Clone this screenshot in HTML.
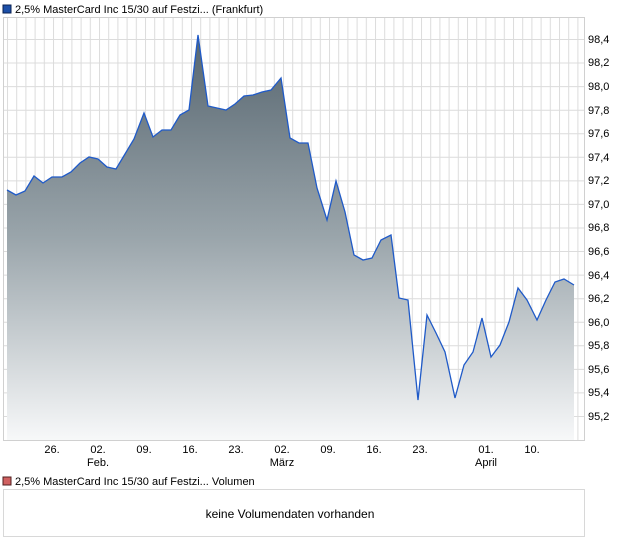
<!DOCTYPE html>
<html><head><meta charset="utf-8"><style>
body{margin:0;background:#fff;width:620px;height:546px;overflow:hidden;font-family:"Liberation Sans",sans-serif;}
</style></head><body>
<svg width="620" height="546" xmlns="http://www.w3.org/2000/svg" font-family="Liberation Sans, sans-serif">
<defs>
<linearGradient id="g" gradientUnits="userSpaceOnUse" x1="0" y1="35" x2="0" y2="440">
<stop offset="0" stop-color="#56656f"/><stop offset="0.5" stop-color="#9aa5ab"/><stop offset="1" stop-color="#f7f8f9"/>
</linearGradient>
<pattern id="vg" patternUnits="userSpaceOnUse" x="7" y="0" width="9.2" height="10"><rect x="0" y="0" width="1" height="10" fill="#dcdcdc"/></pattern>
</defs>
<rect x="3" y="5" width="8" height="8" fill="#1c4fa8" stroke="#0a2050" stroke-width="1"/>
<text x="15" y="13" font-size="11" fill="#000">2,5% MasterCard Inc 15/30 auf Festzi... (Frankfurt)</text>
<rect x="3" y="17" width="581" height="423" fill="url(#vg)"/>
<g stroke="#dcdcdc" stroke-width="1">
<line x1="3" x2="584" y1="39.5" y2="39.5"/><line x1="3" x2="584" y1="63" y2="63"/><line x1="3" x2="584" y1="86.6" y2="86.6"/><line x1="3" x2="584" y1="110.2" y2="110.2"/><line x1="3" x2="584" y1="133.7" y2="133.7"/><line x1="3" x2="584" y1="157.3" y2="157.3"/><line x1="3" x2="584" y1="180.9" y2="180.9"/><line x1="3" x2="584" y1="204.4" y2="204.4"/><line x1="3" x2="584" y1="228" y2="228"/><line x1="3" x2="584" y1="251.5" y2="251.5"/><line x1="3" x2="584" y1="275.1" y2="275.1"/><line x1="3" x2="584" y1="298.7" y2="298.7"/><line x1="3" x2="584" y1="322.2" y2="322.2"/><line x1="3" x2="584" y1="345.8" y2="345.8"/><line x1="3" x2="584" y1="369.4" y2="369.4"/><line x1="3" x2="584" y1="392.9" y2="392.9"/><line x1="3" x2="584" y1="416.5" y2="416.5"/>
</g>
<polygon fill="url(#g)" points="7,440 7,190 16,195 25,191 34,176 43,183 52,177 62,177 71,172 80,163 89,157 98,159 107,167 116,169 125,154 134,139 144,113 153,137 162,130 171,130 180,115 189,110 198,35 208,106 217,108 226,110 235,104 244,96 253,95 262,92 271,90 281,78 290,138 299,143 308,143 317,188 327,220 336,181 345,212 354,255 363,260 372,258 381,240 391,235 399,298 408,300 418,400 427,315 436,333 445,352 455,398 464,365 473,352 482,318 491,357 500,345 509,322 518,288 527,300 537,320 546,300 555,282 564,279 574,285 574,440"/>
<polyline fill="none" stroke="#1f5ac8" stroke-width="1.3" points="7,190 16,195 25,191 34,176 43,183 52,177 62,177 71,172 80,163 89,157 98,159 107,167 116,169 125,154 134,139 144,113 153,137 162,130 171,130 180,115 189,110 198,35 208,106 217,108 226,110 235,104 244,96 253,95 262,92 271,90 281,78 290,138 299,143 308,143 317,188 327,220 336,181 345,212 354,255 363,260 372,258 381,240 391,235 399,298 408,300 418,400 427,315 436,333 445,352 455,398 464,365 473,352 482,318 491,357 500,345 509,322 518,288 527,300 537,320 546,300 555,282 564,279 574,285"/>
<rect x="3.5" y="17.5" width="581" height="423" fill="none" stroke="#d0d0d0"/>
<g font-size="11" fill="#000">
<text x="588" y="43">98,4</text><text x="588" y="66">98,2</text><text x="588" y="90">98,0</text><text x="588" y="114">97,8</text><text x="588" y="137">97,6</text><text x="588" y="161">97,4</text><text x="588" y="184">97,2</text><text x="588" y="208">97,0</text><text x="588" y="231">96,8</text><text x="588" y="255">96,6</text><text x="588" y="279">96,4</text><text x="588" y="302">96,2</text><text x="588" y="326">96,0</text><text x="588" y="349">95,8</text><text x="588" y="373">95,6</text><text x="588" y="396">95,4</text><text x="588" y="420">95,2</text>
</g>
<g font-size="11" fill="#000" text-anchor="middle">
<text x="52" y="453">26.</text><text x="98" y="453">02.</text><text x="98" y="466">Feb.</text><text x="144" y="453">09.</text><text x="190" y="453">16.</text><text x="236" y="453">23.</text><text x="282" y="453">02.</text><text x="282" y="466">März</text><text x="328" y="453">09.</text><text x="374" y="453">16.</text><text x="420" y="453">23.</text><text x="486" y="453">01.</text><text x="486" y="466">April</text><text x="532" y="453">10.</text>
</g>
<rect x="3" y="477" width="8" height="8" fill="#d06060" stroke="#502020" stroke-width="1"/>
<text x="15" y="485" font-size="11" fill="#000">2,5% MasterCard Inc 15/30 auf Festzi... Volumen</text>
<rect x="3.5" y="489.5" width="581" height="47" fill="#fff" stroke="#d8d8d8"/>
<text x="290" y="518" font-size="12" fill="#000" text-anchor="middle">keine Volumendaten vorhanden</text>
</svg>
</body></html>
